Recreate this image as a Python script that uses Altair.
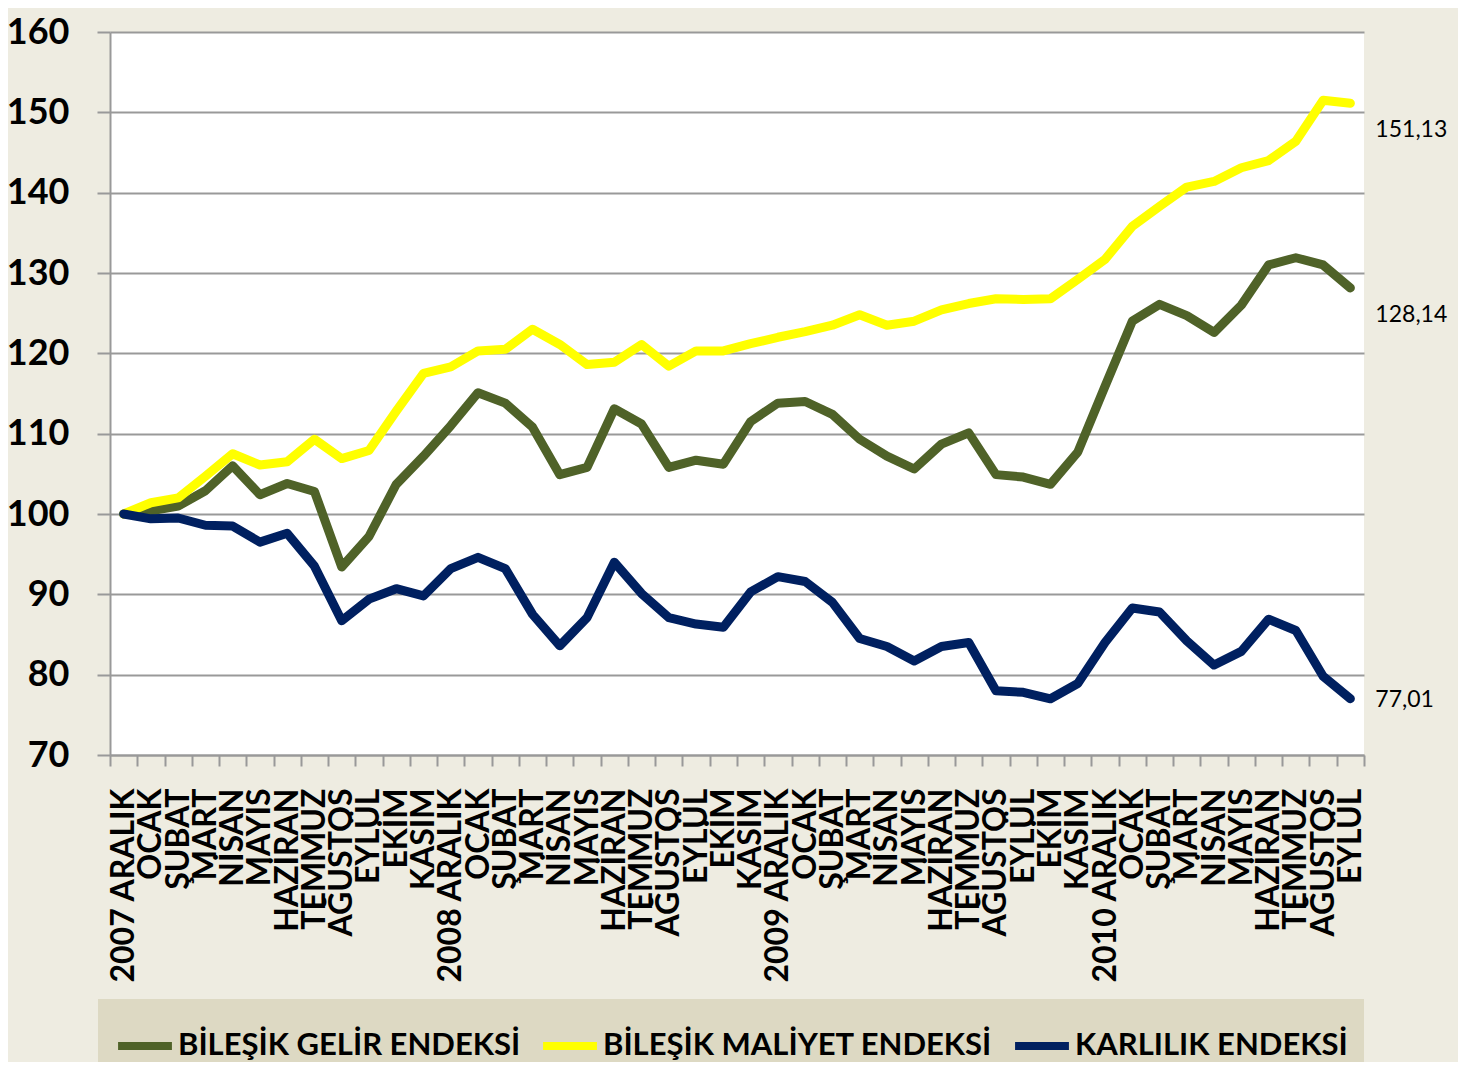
import altair as alt
import pandas as pd

months = [
    "2007 ARALIK", "OCAK", "ŞUBAT", "MART", "NİSAN", "MAYIS", "HAZİRAN", "TEMMUZ", "AĞUSTOS", "EYLÜL", "EKİM", "KASIM",
    "2008 ARALIK", "OCAK", "ŞUBAT", "MART", "NİSAN", "MAYIS", "HAZİRAN", "TEMMUZ", "AĞUSTOS", "EYLÜL", "EKİM", "KASIM",
    "2009 ARALIK", "OCAK", "ŞUBAT", "MART", "NİSAN", "MAYIS", "HAZİRAN", "TEMMUZ", "AĞUSTOS", "EYLÜL", "EKİM", "KASIM",
    "2010 ARALIK", "OCAK", "ŞUBAT", "MART", "NİSAN", "MAYIS", "HAZİRAN", "TEMMUZ", "AĞUSTOS", "EYLÜL",
]

series_names = ["BİLEŞİK GELİR ENDEKSİ", "BİLEŞİK MALİYET ENDEKSİ", "KARLILIK ENDEKSİ"]
series_colors = ["#4F6228", "#FFFF00", "#002060"]

gelir = [100, 100.4, 101.0, 102.9, 106.0, 102.4, 103.8, 102.8, 93.4, 97.2, 103.7, 107.2,
         111.0, 115.1, 113.8, 110.8, 104.9, 105.8, 113.1, 111.2, 105.8, 106.7, 106.2, 111.5,
         113.8, 114.0, 112.4, 109.3, 107.2, 105.6, 108.7, 110.1, 104.9, 104.6, 103.7, 107.7,
         115.9, 124.0, 126.1, 124.7, 122.6, 126.0, 131.0, 131.9, 131.0, 128.14]
maliyet = [100, 101.4, 102.0, 104.7, 107.5, 106.1, 106.5, 109.3, 106.9, 107.9, 112.8, 117.5,
           118.3, 120.3, 120.5, 123.0, 121.1, 118.6, 118.9, 121.1, 118.4, 120.3, 120.3, 121.2,
           122.0, 122.7, 123.5, 124.8, 123.5, 124.0, 125.4, 126.2, 126.8, 126.7, 126.8, 129.2,
           131.7, 135.8, 138.3, 140.7, 141.4, 143.1, 144.0, 146.4, 151.5, 151.13]
karlilik = [100, 99.4, 99.5, 98.6, 98.5, 96.5, 97.6, 93.5, 86.7, 89.4, 90.7, 89.8,
            93.2, 94.6, 93.2, 87.5, 83.6, 87.1, 94.0, 90.1, 87.1, 86.3, 85.9, 90.3,
            92.2, 91.6, 89.0, 84.5, 83.5, 81.7, 83.5, 84.0, 78.0, 77.8, 77.0, 78.9,
            84.0, 88.3, 87.8, 84.2, 81.2, 82.9, 86.9, 85.5, 79.8, 77.01]

end_labels = ["128,14", "151,13", "77,01"]
end_label_dy = [27, 27, 1]

y_ticks = [70, 80, 90, 100, 110, 120, 130, 140, 150, 160]

rows = []
for name, vals in zip(series_names, [gelir, maliyet, karlilik]):
    for i, v in enumerate(vals):
        rows.append({"idx": i, "series": name, "value": v})
df = pd.DataFrame(rows)

label_expr = "[" + ",".join("'" + m + "'" for m in months) + "][datum.value]"

x_enc = alt.X(
    "idx:O",
    scale=alt.Scale(type="band", paddingInner=0, paddingOuter=0),
    axis=alt.Axis(
        title=None,
        labelExpr=label_expr,
        labelAngle=-90,
        labelAlign="right",
        labelBaseline="middle",
        labelFont="Lato",
        labelFontSize=32,
        labelFontWeight="bold",
        labelColor="#000000",
        labelPadding=22,
        labelOverlap=False,
        labelBound=False,
        labelFlush=False,
        labelLimit=0,
        tickBand="extent",
        tickSize=11,
        tickColor="#999999",
        tickWidth=2,
        domainColor="#999999",
        domainWidth=2,
        grid=False,
    ),
)
y_enc = alt.Y(
    "value:Q",
    scale=alt.Scale(domain=[70, 160], nice=False, zero=False),
    axis=alt.Axis(
        title=None,
        values=y_ticks,
        labelFont="Lato",
        labelFontSize=36,
        labelFontWeight="bold",
        labelColor="#000000",
        labelPadding=28,
        labelFlush=False,
        tickSize=13,
        tickColor="#999999",
        tickWidth=2,
        domainColor="#999999",
        domainWidth=2,
        grid=True,
        gridColor="#999999",
        gridWidth=2,
    ),
)

lines = alt.Chart(df).mark_line(strokeWidth=9, strokeCap="round", strokeJoin="round").encode(
    x=x_enc,
    y=y_enc,
    color=alt.Color(
        "series:N",
        scale=alt.Scale(domain=series_names, range=series_colors),
        legend=alt.Legend(
            title=None,
            orient="none",
            legendX=-12,
            legendY=967,
            direction="horizontal",
            fillColor="#DDD9C3",
            padding=16,
            symbolType="stroke",
            symbolSize=2900,
            symbolStrokeWidth=8,
            labelFont="Lato",
            labelFontSize=31,
            labelFontWeight="bold",
            labelColor="#000000",
            labelLimit=1000,
            labelOffset=2,
            columnPadding=6,
        ),
    ),
    order=alt.Order("idx:O"),
)

layers = [lines]
for name, vals, txt, dy in zip(series_names, [gelir, maliyet, karlilik], end_labels, end_label_dy):
    last = pd.DataFrame([{"idx": len(vals) - 1, "value": vals[-1], "txt": txt}])
    layers.append(
        alt.Chart(last).mark_text(
            align="left", baseline="middle", dx=25, dy=dy,
            font="Lato", fontSize=23, color="#000000",
        ).encode(
            x=alt.X("idx:O"),
            y=alt.Y("value:Q"),
            text="txt:N",
        )
    )

chart = alt.layer(*layers).properties(
    width=1254,
    height=723,
    autosize=alt.AutoSizeParams(type="none"),
    padding={"left": 102, "top": 24, "right": 94, "bottom": 307},
    background="#EEECE1",
).configure_view(fill="#FFFFFF", stroke=None)

chart.save("out.html", embed_options={"renderer": "svg", "actions": False})
